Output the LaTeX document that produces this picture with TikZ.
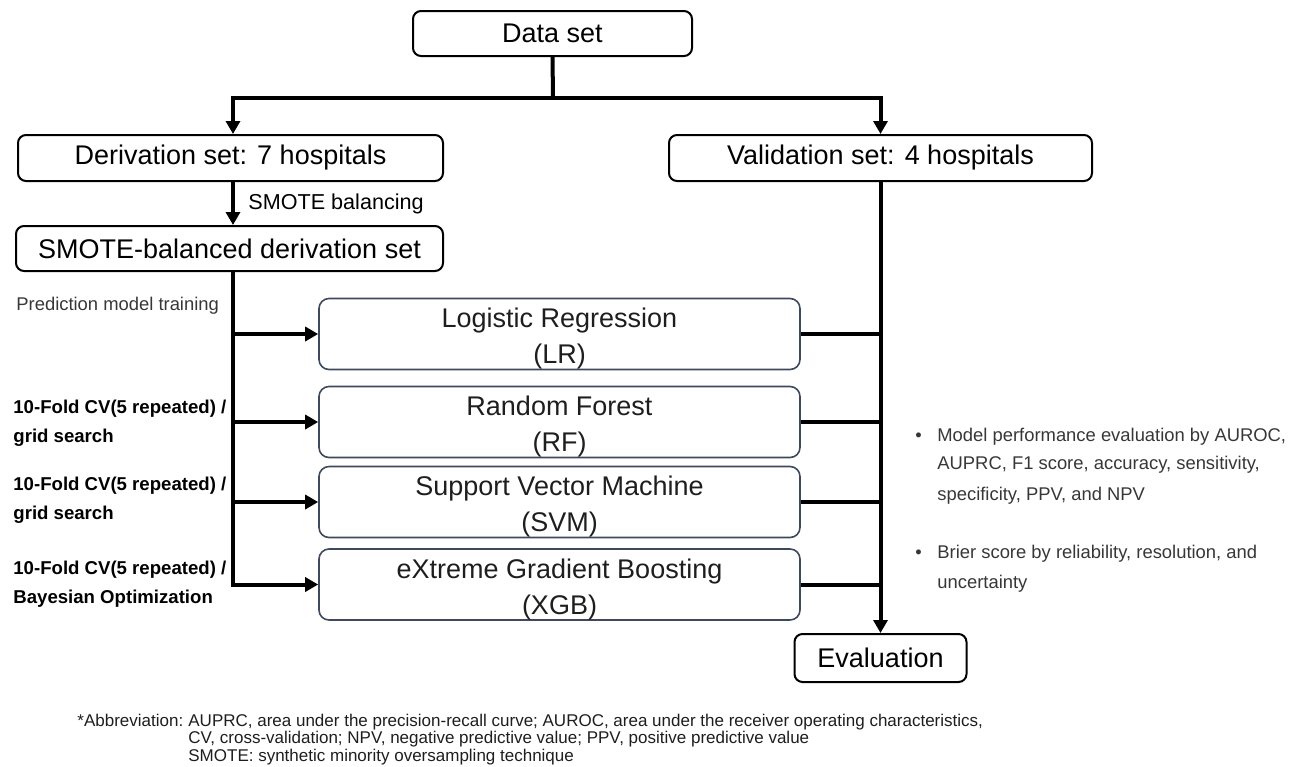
\documentclass[tikz,border=0pt]{standalone}
\usepackage{fontspec}
\setmainfont{Liberation Sans}
\usetikzlibrary{arrows.meta}
\definecolor{boxedge}{RGB}{62,74,92}
\definecolor{txtdark}{RGB}{30,30,30}
\definecolor{txtgray}{RGB}{55,55,55}
\newcommand{\mytopstrut}{\rule{0pt}{14.7pt}}
\begin{document}
\begin{tikzpicture}[x=0.5pt,y=-0.5pt,
  mainbox/.style={draw, line width=1pt, rounded corners=4pt, inner sep=0pt, font=\fontsize{13.5}{16}\selectfont},
  modelbox/.style={draw=boxedge, line width=0.8pt, rounded corners=5pt, inner sep=0pt, minimum width=240.5pt, minimum height=35pt, align=center, text=txtdark, font=\fontsize{13.5}{18}\selectfont},
  conn/.style={line width=2pt},
  arr/.style={conn, -{Triangle[width=7pt,length=6.5pt]}},
  smalltxt/.style={inner sep=0pt, anchor=base west, font=\fontsize{10.8}{12}\selectfont},
  lbl/.style={inner sep=0pt, anchor=base west, text=txtgray, font=\fontsize{9.2}{11}\selectfont},
  boldlbl/.style={inner sep=0pt, anchor=base west, font=\fontsize{9.3}{11}\selectfont\bfseries},
  bultxt/.style={inner sep=0pt, anchor=base west, text=txtgray, font=\fontsize{9.2}{11}\selectfont},
  foot/.style={inner sep=0pt, anchor=base west, text=txtdark, font=\fontsize{8.5}{10}\selectfont}]
\useasboundingbox (0,0) rectangle (1299,766);

% boxes
\node[mainbox, minimum width=139.5pt, minimum height=22.5pt] (ds) at (552.5,33.5) {Data set};
\node[mainbox, minimum width=212.5pt, minimum height=23pt] (der) at (230.5,158) {Derivation set: 7 hospitals};
\node[mainbox, minimum width=211.5pt, minimum height=23pt] (val) at (880.5,158) {Validation set: 4 hospitals};
\node[mainbox, minimum width=213.5pt, minimum height=22.5pt] (smo) at (229.5,248.5) {SMOTE-balanced derivation set};
\node[modelbox] (lr) at (559.5,334) {\mytopstrut Logistic Regression\\(LR)};
\node[modelbox] (rf) at (559.5,422) {\mytopstrut Random Forest\\(RF)};
\node[modelbox] (svm) at (559.5,502) {\mytopstrut Support Vector Machine\\(SVM)};
\node[modelbox, minimum height=35.5pt] (xgb) at (559.5,584.5) {\mytopstrut eXtreme Gradient Boosting\\(XGB)};
\node[mainbox, minimum width=86pt, minimum height=24pt] (ev) at (880.5,658) {Evaluation};

% connectors
\coordinate (split) at (553,98);
\coordinate (jl) at (233,98);
\draw[conn] (ds.south) -- (split);
\draw[arr] (split) -- (jl) -- (jl |- der.north);
\draw[arr] (split) -| (val.north);
\draw[arr] (der.south -| jl) -- (smo.north -| jl);
\draw[arr] (smo.south -| jl) |- (xgb.west);
\draw[arr] (jl |- lr.west) -- (lr.west);
\draw[arr] (jl |- rf.west) -- (rf.west);
\draw[arr] (jl |- svm.west) -- (svm.west);
\draw[arr] (val.south) -- (ev.north);
\draw[conn] (lr.east) -- (lr.east -| val.south);
\draw[conn] (rf.east) -- (rf.east -| val.south);
\draw[conn] (svm.east) -- (svm.east -| val.south);
\draw[conn] (xgb.east) -- (xgb.east -| val.south);

% labels
\node[smalltxt] (smlab) at (248,209) {SMOTE balancing};
\node[lbl] (pmt) at (16,310) {Prediction model training};
\node[boldlbl] (cv1a) at (13,413) {10-Fold CV(5 repeated) /};
\node[boldlbl] (cv1b) at (13,442) {grid search};
\node[boldlbl] (cv2a) at (13,490) {10-Fold CV(5 repeated) /};
\node[boldlbl] (cv2b) at (13,519) {grid search};
\node[boldlbl] (cv3a) at (13,574) {10-Fold CV(5 repeated) /};
\node[boldlbl] (cv3b) at (13,603) {Bayesian Optimization};

% bullets
\node[bultxt] (bu1) at (915,441) {•};
\node[bultxt] (m1) at (937,441) {Model performance evaluation by AUROC,};
\node[bultxt] (m2) at (937,469.5) {AUPRC, F1 score, accuracy, sensitivity,};
\node[bultxt] (m3) at (937,500) {specificity, PPV, and NPV};
\node[bultxt] (bu2) at (915,558) {•};
\node[bultxt] (n1) at (937,558) {Brier score by reliability, resolution, and};
\node[bultxt] (n2) at (937,588) {uncertainty};

% footnote
\node[foot] (ab) at (77,726) {*Abbreviation:};
\node[foot] (f1) at (188,726) {AUPRC, area under the precision-recall curve; AUROC, area under the receiver operating characteristics,};
\node[foot] (f2) at (188,743.5) {CV, cross-validation; NPV, negative predictive value; PPV, positive predictive value};
\node[foot] (f3) at (188,761) {SMOTE: synthetic minority oversampling technique};
\end{tikzpicture}
\end{document}
